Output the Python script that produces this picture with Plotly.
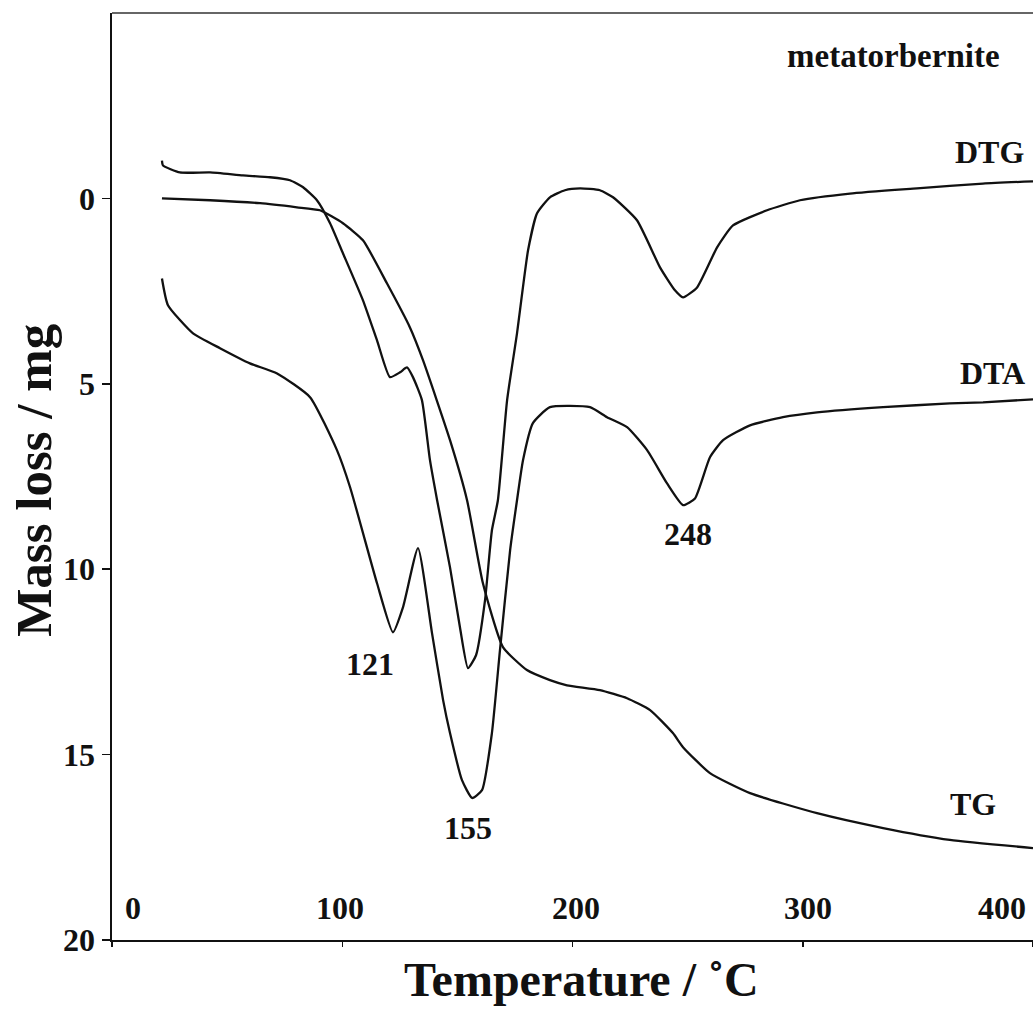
import plotly.graph_objects as go

# ---- data (temperature in °C, signal on the "Mass loss / mg" scale) ----
dtg_t = [21.7, 22.1, 29.5, 42.6, 56.9, 68.6, 77.3, 83.0, 89.0, 94.7, 100.3, 109.0, 115.1,
         120.7, 125.1, 128.1, 130.7, 134.6, 138.1, 141.2, 146.8, 151.1, 154.6, 158.1,
         162.0, 165.0, 167.6, 171.6, 175.9, 180.7, 184.6, 190.2, 196.7, 203.3, 211.9,
         217.6, 228.0, 238.0, 244.5, 248.0, 254.1, 262.8, 269.7, 284.5, 298.8, 320.5,
         349.6, 378.3, 400.0]
dtg_v = [-1.02, -0.89, -0.70, -0.70, -0.62, -0.57, -0.49, -0.30, 0.05, 0.67, 1.48, 2.75, 3.83,
         4.82, 4.69, 4.56, 4.82, 5.44, 7.06, 8.14, 9.95, 11.56, 12.67, 12.32,
         10.84, 8.95, 8.14, 5.44, 3.64, 1.40, 0.40, -0.03, -0.22, -0.27, -0.22,
         -0.03, 0.59, 1.86, 2.48, 2.67, 2.40, 1.32, 0.73, 0.32, 0.05, -0.13,
         -0.27, -0.40, -0.46]

dta_t = [21.7, 24.3, 35.2, 46.9, 59.9, 71.7, 86.0, 97.7, 103.4, 115.1, 122.0, 126.4, 132.9,
         139.0, 143.8, 146.8, 152.0, 156.4, 160.7, 165.0, 168.5, 172.9, 175.9, 178.5,
         182.8, 190.2, 207.6, 215.0, 223.7, 232.4, 241.0, 248.0, 253.2, 259.7, 265.4,
         277.1, 291.4, 306.2, 334.9, 363.9, 378.3, 400.0]
dta_v = [2.16, 2.88, 3.64, 4.04, 4.45, 4.72, 5.36, 6.79, 7.79, 10.38, 11.70, 11.02, 9.43,
         11.73, 13.53, 14.42, 15.69, 16.17, 15.96, 14.42, 12.18, 9.49, 8.14, 7.06,
         6.06, 5.63, 5.63, 5.90, 6.17, 6.79, 7.68, 8.27, 8.09, 6.98, 6.52,
         6.12, 5.90, 5.77, 5.63, 5.53, 5.50, 5.42]

tg_t = [21.7, 42.6, 64.3, 80.3, 90.3, 100.3, 109.0, 119.4, 129.4, 135.1, 146.8, 154.2,
        161.1, 169.8, 180.2, 190.2, 197.6, 211.9, 223.7, 233.7, 243.6, 248.0, 259.7,
        277.1, 306.2, 334.9, 363.9, 400.0]
tg_v = [0.0, 0.05, 0.13, 0.24, 0.32, 0.67, 1.13, 2.29, 3.48, 4.37, 6.52, 8.14,
        10.38, 12.10, 12.72, 12.99, 13.13, 13.26, 13.48, 13.80, 14.42, 14.80, 15.50,
        16.04, 16.58, 16.98, 17.30, 17.52]

x_ticks = [0, 100, 200, 300, 400]
x_tick_labels = ["0", "100", "200", "300", "400"]
y_ticks = [0, 5, 10, 15, 20]

curve_labels = ["DTG", "DTA", "TG"]
curve_label_pos = [(381.3, -1.24), (382.6, 4.72), (373.9, 16.33)]
peak_labels = ["121", "155", "248"]
peak_label_pos = [(112.1, 12.56), (154.6, 16.98), (250.2, 9.06)]
sample_name = "metatorbernite"

FONT = "Liberation Serif"
INK = "#111111"

fig = go.Figure()
for t, v, name in [(dtg_t, dtg_v, "DTG"), (dta_t, dta_v, "DTA"), (tg_t, tg_v, "TG")]:
    fig.add_trace(go.Scatter(x=t, y=v, mode="lines", name=name,
                             line=dict(color=INK, width=2.3, shape="spline", smoothing=0.5),
                             showlegend=False, hoverinfo="skip"))

ann = []
for txt, (x, y) in zip(curve_labels, curve_label_pos):
    ann.append(dict(x=x, y=y, text="<b>%s</b>" % txt, showarrow=False,
                    font=dict(family=FONT, size=32, color=INK)))
for txt, (x, y) in zip(peak_labels, peak_label_pos):
    ann.append(dict(x=x, y=y, text="<b>%s</b>" % txt, showarrow=False,
                    font=dict(family=FONT, size=32, color=INK)))
ann.append(dict(x=339.2, y=-3.85, text="<b>%s</b>" % sample_name, showarrow=False,
                font=dict(family=FONT, size=33, color=INK)))

# x tick labels drawn inside the frame, above the axis
x_label_shift = [21, -2, 3, 5, -31]
for v, txt, sh in zip(x_ticks, x_tick_labels, x_label_shift):
    ann.append(dict(x=v, y=0, xref="x", yref="paper", yanchor="bottom", yshift=12,
                    xshift=sh, text="<b>%s</b>" % txt, showarrow=False,
                    font=dict(family=FONT, size=32, color=INK)))

# axis titles
ann.append(dict(x=-0.084, y=0.496, xref="paper", yref="paper", textangle=-90,
                xanchor="center", yanchor="middle",
                text="<b>Mass loss / mg</b>", showarrow=False,
                font=dict(family=FONT, size=51, color=INK)))
ann.append(dict(x=0.51, y=-0.043, xref="paper", yref="paper",
                xanchor="center", yanchor="middle",
                text="<b>Temperature / ˚C</b>", showarrow=False,
                font=dict(family=FONT, size=48, color=INK)))

fig.update_layout(
    width=1033, height=1030,
    margin=dict(l=112, r=0, t=13, b=90),
    paper_bgcolor="white", plot_bgcolor="white",
    annotations=ann,
    xaxis=dict(range=[0, 400], showgrid=False, zeroline=False,
               showline=True, linecolor=INK, linewidth=2,
               tickmode="array", tickvals=x_ticks, ticks="outside",
               ticklen=5, tickwidth=1.5, tickcolor=INK, showticklabels=False),
    yaxis=dict(range=[20, -5], showgrid=False, zeroline=False,
               showline=True, linecolor=INK, linewidth=2.5,
               tickmode="array", tickvals=y_ticks, ticks="outside",
               ticklen=8, tickwidth=1.5, tickcolor=INK,
               tickfont=dict(family=FONT, size=32, color=INK, weight="bold")),
    shapes=[dict(type="line", xref="paper", yref="paper", x0=0, x1=1, y0=1, y1=1,
                 line=dict(color="#333333", width=1.5))],
)

fig.write_html("out.html", config={"displayModeBar": False, "staticPlot": True},
               post_script="document.body.style.margin='0';document.body.style.overflow='hidden';")
